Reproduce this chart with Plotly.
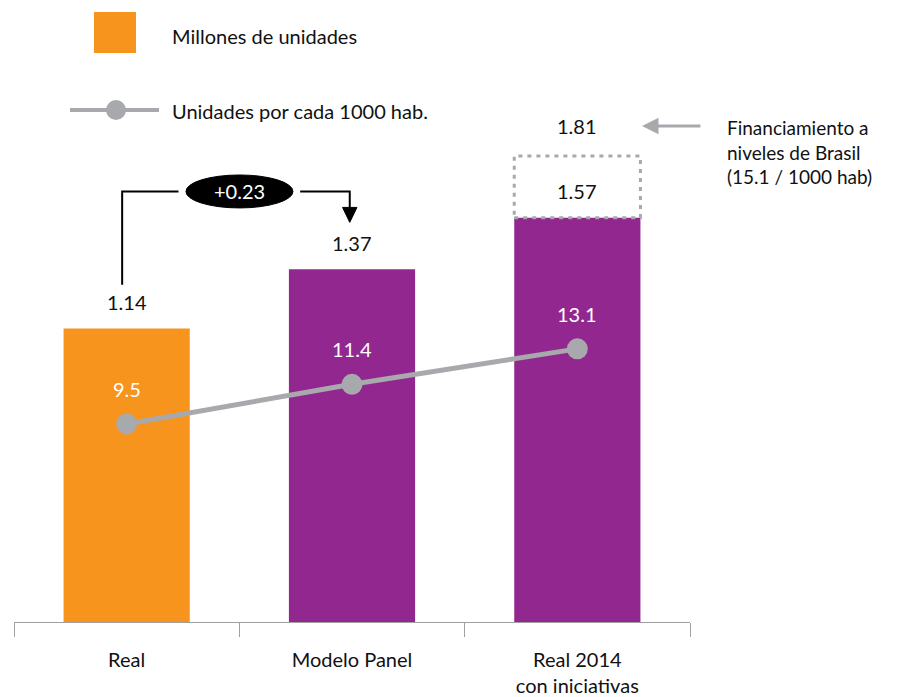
import plotly.graph_objects as go

# data
categories = ["Real", "Modelo Panel", "Real 2014<br>con iniciativas"]
millones = [1.14, 1.37, 1.57]
por_1000 = [9.5, 11.4, 13.1]
bar_colors = ["#F7941D", "#92278F", "#92278F"]
brasil_millones = 1.81
brasil_por_1000 = 15.1
delta = round(millones[1] - millones[0], 2)

ORANGE = "#F7941D"
GRAY = "#A7A9AC"
TXT = "#111111"
FONT = "Lato"
FS = 20

# page has an 8px body margin -> plot area lands at 14..690 x, 100..622 y
Y1_MAX = 522 / 257.5
Y2_MAX = 522 / 20.85
BAR_W = 0.56


def px_x(p):
    # page pixel -> paper x
    return (p - 14) / 676


def px_y(p):
    # page pixel -> paper y
    return (622 - p) / 522


fig = go.Figure()

fig.add_trace(go.Bar(
    x=categories, y=millones,
    marker=dict(color=bar_colors, line=dict(width=0)),
    width=BAR_W,
    showlegend=False, hoverinfo="skip",
))

fig.add_trace(go.Scatter(
    x=categories, y=por_1000, yaxis="y2",
    mode="lines+markers",
    line=dict(color=GRAY, width=5),
    marker=dict(color=GRAY, size=21),
    showlegend=False, hoverinfo="skip",
))

annotations = []
shapes = []

# bar value labels (1.14, 1.37)
for i in range(2):
    annotations.append(dict(
        x=i, y=millones[i], xref="x", yref="y", text=f"{millones[i]:.2f}",
        showarrow=False, yanchor="bottom", yshift=12,
        font=dict(size=FS, color=TXT),
    ))

# line value labels (white)
for i, v in enumerate(por_1000):
    annotations.append(dict(
        x=i, y=v, xref="x", yref="y2", text=f"{v:.1f}",
        showarrow=False, yanchor="bottom", yshift=21,
        font=dict(size=FS, color="white"),
    ))

# dashed box: Brasil scenario
shapes.append(dict(
    type="rect", xref="x", yref="y",
    x0=2 - BAR_W / 2, x1=2 + BAR_W / 2,
    y0=millones[2], y1=brasil_millones,
    line=dict(color=GRAY, width=3, dash="4px,5px"),
    fillcolor="rgba(0,0,0,0)", layer="above",
))
annotations.append(dict(
    x=2, y=(millones[2] + brasil_millones) / 2, xref="x", yref="y",
    text=f"{millones[2]:.2f}", showarrow=False, yshift=-4,
    font=dict(size=FS, color=TXT),
))
annotations.append(dict(
    x=2, y=brasil_millones, xref="x", yref="y",
    text=f"{brasil_millones:.2f}", showarrow=False, yanchor="bottom", yshift=16,
    font=dict(size=FS, color=TXT),
))

# gray arrow pointing to 1.81
annotations.append(dict(
    x=2.287, y=1.926, ax=2.553, ay=1.926, xref="x", yref="y", axref="x", ayref="y",
    text="", showarrow=True, arrowhead=2, arrowsize=1.1, arrowwidth=3,
    arrowcolor=GRAY,
))
annotations.append(dict(
    x=px_x(725), y=px_y(152), xref="paper", yref="paper",
    text=f"Financiamiento a<br>niveles de Brasil<br>({brasil_por_1000} / 1000 hab)",
    showarrow=False, xanchor="left", yanchor="middle", align="left",
    font=dict(size=FS - 1, color=TXT),
))

# bracket with +0.23
BR_Y = 1.672
shapes.append(dict(
    type="path", xref="x", yref="y",
    path=f"M -0.02,1.31 L -0.02,{BR_Y} L 0.23,{BR_Y}",
    line=dict(color="black", width=2),
))
shapes.append(dict(
    type="path", xref="x", yref="y",
    path=f"M 0.77,{BR_Y} L 0.99,{BR_Y} L 0.99,1.60",
    line=dict(color="black", width=2),
))
shapes.append(dict(
    type="path", xref="x", yref="y",
    path="M 0.958,1.61 L 1.022,1.61 L 0.99,1.552 Z",
    fillcolor="black", line=dict(color="black", width=1),
))
shapes.append(dict(
    type="circle", xref="x", yref="y",
    x0=0.263, x1=0.738, y0=1.608, y1=1.736,
    fillcolor="black", line=dict(color="black", width=1),
))
annotations.append(dict(
    x=0.5, y=BR_Y, xref="x", yref="y", text=f"+{delta:.2f}",
    showarrow=False, font=dict(size=FS, color="white"),
))

# custom legend
shapes.append(dict(
    type="rect", xref="paper", yref="paper",
    x0=px_x(94), x1=px_x(136), y0=px_y(53), y1=px_y(12),
    fillcolor=ORANGE, line=dict(width=0),
))
shapes.append(dict(
    type="line", xref="paper", yref="paper",
    x0=px_x(70), x1=px_x(159), y0=px_y(110), y1=px_y(110),
    line=dict(color=GRAY, width=4),
))
shapes.append(dict(
    type="circle", xref="paper", yref="paper",
    x0=px_x(106), x1=px_x(126), y0=px_y(120), y1=px_y(100),
    fillcolor=GRAY, line=dict(width=0),
))
annotations.append(dict(
    x=px_x(170), y=px_y(36), xref="paper", yref="paper", text="Millones de unidades",
    showarrow=False, xanchor="left", yanchor="middle", font=dict(size=FS, color=TXT),
))
annotations.append(dict(
    x=px_x(170), y=px_y(111), xref="paper", yref="paper", text="Unidades por cada 1000 hab.",
    showarrow=False, xanchor="left", yanchor="middle", font=dict(size=FS, color=TXT),
))

fig.update_layout(
    width=902, height=697,
    margin=dict(l=6, r=220, t=92, b=83),
    paper_bgcolor="white", plot_bgcolor="white",
    font=dict(family=FONT, size=FS, color=TXT),
    showlegend=False,
    xaxis=dict(
        range=[-0.5, 2.5], showline=True, linecolor="#A0A0A0", linewidth=1,
        ticks="outside", tickson="boundaries", ticklen=14, tickcolor="#A0A0A0",
        ticklabelstandoff=20,
        showgrid=False, tickfont=dict(size=FS, color=TXT),
    ),
    yaxis=dict(range=[0, Y1_MAX], visible=False, showgrid=False),
    yaxis2=dict(range=[0, Y2_MAX], overlaying="y", visible=False, showgrid=False),
    shapes=shapes,
    annotations=annotations,
)

fig.write_html("out.html")
